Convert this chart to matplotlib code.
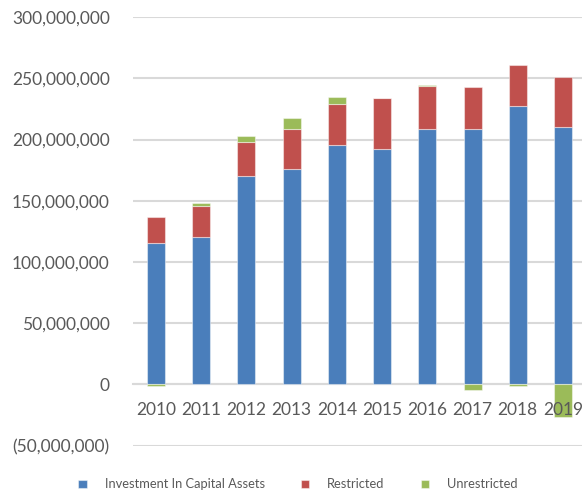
import matplotlib
matplotlib.use("Agg")
import matplotlib.pyplot as plt
from matplotlib.ticker import FuncFormatter, MultipleLocator
import numpy as np

years = ["2010", "2011", "2012", "2013", "2014", "2015", "2016", "2017", "2018", "2019"]
capital_assets = [115.2, 120.1, 170.4, 175.6, 195.3, 192.5, 208.6, 208.8, 227.6, 210.5]
restricted = [21.2, 25.8, 27.8, 32.9, 33.7, 41.2, 34.9, 34.1, 33.5, 40.6]
unrestricted = [-1.5, 2.2, 4.9, 8.7, 5.7, 0.0, 1.1, -4.7, -1.5, -26.5]
series_names = ["Investment In Capital Assets", "Restricted", "Unrestricted"]

plt.rcParams["font.family"] = ["Lato", "DejaVu Sans"]
TEXT = "#595959"
COLORS = ["#4A7EBB", "#C0504D", "#9BBB59"]

scale = 1e6
blue = np.array(capital_assets) * scale
red = np.array(restricted) * scale
green = np.array(unrestricted) * scale

fig = plt.figure(figsize=(5.82, 4.96), dpi=100)
W, H = 582, 496
left_px, right_px, top_px, bottom_px = 133.4, 585.6, 17.1, 445.6
ax = fig.add_axes([left_px / W, 1 - bottom_px / H,
                   (right_px - left_px) / W, (bottom_px - top_px) / H])

x = np.arange(len(years))
width = 0.4
edge = dict(edgecolor=(1, 1, 1, 0.45), linewidth=0.8)
ax.bar(x, blue, width, color=COLORS[0], label=series_names[0], zorder=3, **edge)
ax.bar(x, red, width, bottom=blue, color=COLORS[1], label=series_names[1], zorder=3, **edge)
green_bottom = np.where(green >= 0, blue + red, 0)
ax.bar(x, green, width, bottom=green_bottom, color=COLORS[2], label=series_names[2], zorder=3, **edge)

ax.set_xlim(-0.5, len(years) - 0.5)
ax.set_ylim(-50e6, 300e6)
ax.yaxis.set_major_locator(MultipleLocator(50e6))


def money(v, pos):
    if abs(v) < 1:
        return "0"
    s = f"{abs(v):,.0f}"
    return f"({s})" if v < 0 else s


ax.yaxis.set_major_formatter(FuncFormatter(money))
ax.grid(axis="y", color="#D9D9D9", linewidth=1.5, zorder=0)
ax.set_axisbelow(True)

for s in ["top", "right", "left"]:
    ax.spines[s].set_visible(False)
ax.spines["bottom"].set_position(("data", 0))
ax.spines["bottom"].set_color("#D9D9D9")
ax.spines["bottom"].set_linewidth(1.5)
ax.spines["bottom"].set_zorder(2)

ax.set_xticks(x)
ax.set_xticklabels(years)
ax.tick_params(axis="x", length=0, pad=13, labelsize=12.5, labelcolor=TEXT)
ax.tick_params(axis="y", length=0, pad=17, labelsize=12.5, labelcolor=TEXT)
# category labels sit on top of the bars that hang below zero
ax.xaxis.set_zorder(4)

fig.legend(loc="center", bbox_to_anchor=(298 / W, 1 - 484.5 / H), ncol=3,
           frameon=False, fontsize=9.3, labelcolor=TEXT,
           handlelength=0.65, handleheight=0.65, handletextpad=1.4,
           columnspacing=2.8)

fig.savefig("out.png", dpi=100)
